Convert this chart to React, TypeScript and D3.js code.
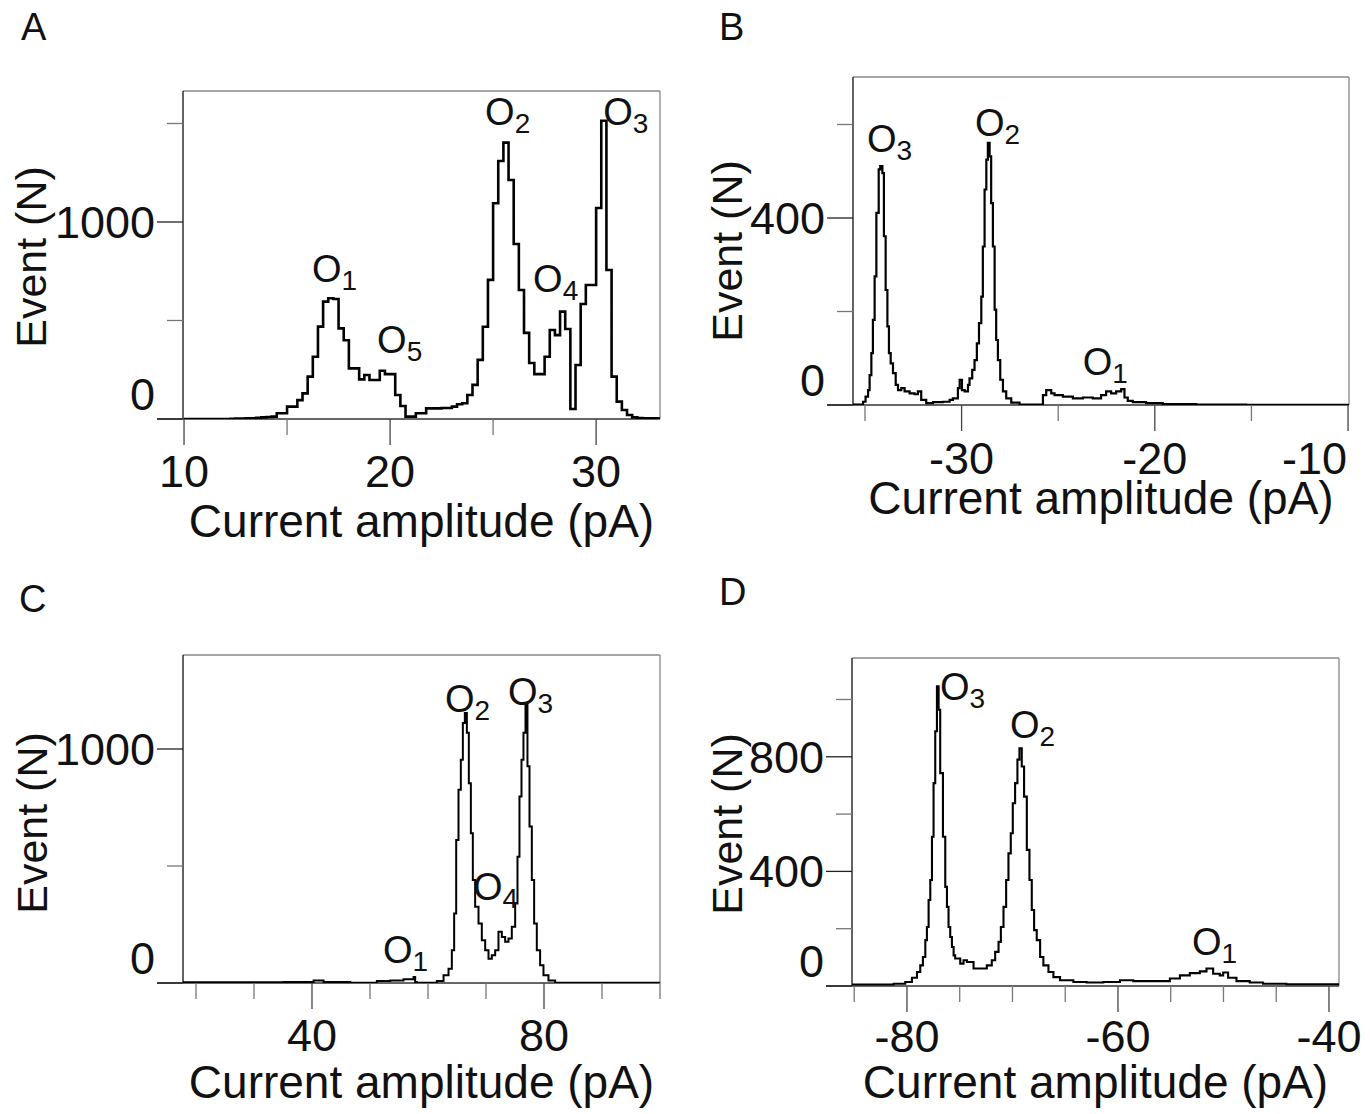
import React from "react";
import * as d3 from "d3";

const FONT = "'Liberation Sans', Arial, Helvetica, sans-serif";

// ---------------- Panel A (uniform bins of 0.25 pA starting at 10 pA)
const aBinStart = 10;
const aBinWidth = 0.25;
const aCounts = [
  0, 0, 0, 0, 0, 0, 0, 0, 0, 1, 2, 2, 3, 4, 6, 8, 10, 12, 29, 29,
  63, 63, 96, 130, 215, 316, 469, 596, 613, 609, 460, 400, 257, 257, 201, 223, 198, 198, 245, 228,
  228, 122, 66, 12, 12, 29, 29, 54, 54, 54, 56, 56, 63, 75, 80, 122, 173, 300, 468, 706,
  1095, 1310, 1403, 1213, 888, 655, 437, 284, 228, 228, 316, 452, 426, 545, 457, 51, 274, 584, 680, 680,
  1071, 1514, 756, 215, 88, 46, 20, 8, 5, 4, 3, 3, 2,
];
const aXDomain = [9.95, 33.1];
const aYDomain = [0, 1665];
const aXMajor = [10, 20, 30];
const aXMinor = [15, 25];
const aYMajor = [0, 1000];
const aYMinor = [500, 1500];
const aPeaks = [
  { sub: "1", x: 16.21, y: 695 },
  { sub: "2", x: 24.61, y: 1492 },
  { sub: "3", x: 30.34, y: 1492 },
  { sub: "4", x: 26.94, y: 645 },
  { sub: "5", x: 19.37, y: 335 },
];

// ---------------- Panel B
const bEdges = [
  -35.62, -35.1, -34.97, -34.84, -34.76, -34.67, -34.59, -34.5, -34.41, -34.29, -34.21, -34.1, -34.02,
  -33.93, -33.84, -33.76, -33.67, -33.55, -33.41, -33.29, -33.12, -32.95, -32.69, -32.43, -32.26,
  -32.09, -31.83, -31.48, -30.97, -30.62, -30.45, -30.19, -30.1, -29.98, -29.84, -29.67, -29.59,
  -29.45, -29.33, -29.21, -29.1, -28.98, -28.9, -28.81, -28.72, -28.64, -28.55, -28.47, -28.38,
  -28.29, -28.21, -28.12, -28.0, -27.86, -27.69, -27.43, -27.0, -25.79, -25.62, -25.36, -25.19,
  -24.76, -24.24, -23.72, -23.21, -22.78, -22.52, -22.26, -22.0, -21.74, -21.57, -21.4, -21.14,
  -20.45, -19.59, -17.86, -15.28, -9.95,
];
const bCounts = [
  1, 7, 18, 32, 64, 111, 182, 275, 411, 504, 511, 496, 361, 246, 168, 111, 89, 68, 43, 32,
  36, 29, 25, 23, 29, 11, 4, 6, 7, 11, 14, 36, 54, 32, 29, 43, 57, 75, 96, 132,
  175, 232, 339, 461, 525, 561, 532, 432, 339, 204, 139, 96, 54, 29, 14, 5, 1, 21, 32, 25,
  21, 18, 14, 16, 14, 21, 29, 25, 29, 34, 16, 9, 6, 4, 2, 1, 0.5,
];
const bXDomain = [-35.62, -9.95];
const bYDomain = [0, 701.6];
const bXMajor = [-30, -20, -10];
const bXMinor = [-35, -25, -15];
const bYMajor = [0, 400];
const bYMinor = [200, 600];
const bPeaks = [
  { sub: "3", x: -34.9, y: 541 },
  { sub: "2", x: -29.31, y: 575 },
  { sub: "1", x: -23.73, y: 64 },
];

// ---------------- Panel C
const cEdges = [
  17.76, 35.1, 39.7, 40.28, 42.0, 46.6, 51.19, 53.49, 55.78, 57.51, 57.79, 58.08, 61.53, 62.68,
  63.54, 64.11, 64.51, 64.86, 65.26, 65.66, 66.01, 66.35, 66.7, 67.04, 67.39, 67.73, 68.13, 68.71,
  69.28, 69.86, 70.43, 71.0, 71.58, 72.15, 72.73, 73.3, 73.88, 74.45, 75.03, 75.43, 75.77, 76.12,
  76.46, 76.81, 77.15, 77.5, 77.9, 78.3, 78.76, 79.33, 79.91, 80.77, 81.92, 100,
];
const cCounts = [
  3, 4, 4, 11, 4, 1, 9, 11, 16, 26, 4, 1, 9, 33, 61, 140, 297, 611, 826, 954,
  1111, 1154, 1069, 854, 640, 440, 326, 254, 183, 140, 104, 119, 140, 219, 197, 176, 190, 240, 340, 540,
  797, 954, 1069, 1190, 926, 669, 440, 254, 140, 76, 33, 11, 1,
];
const cXDomain = [17.76, 100];
const cYDomain = [0, 1401.7];
const cXMajor = [40, 80];
const cXMinor = [20, 30, 50, 60, 70, 90, 100];
const cYMajor = [0, 1000];
const cYMinor = [500];
const cPeaks = [
  { sub: "2", x: 62.93, y: 1158 },
  { sub: "3", x: 73.79, y: 1188 },
  { sub: "4", x: 67.76, y: 355 },
  { sub: "1", x: 52.24, y: 85 },
];

// ---------------- Panel D
const dEdges = [
  -85.21, -81.26, -80.16, -79.53, -79.05, -78.74, -78.49, -78.26, -78.11, -77.95, -77.79, -77.63,
  -77.48, -77.32, -77.16, -77.0, -76.85, -76.59, -76.37, -76.21, -76.06, -75.9, -75.74, -75.58,
  -75.43, -74.95, -74.64, -74.32, -73.69, -73.06, -72.43, -71.96, -71.64, -71.32, -71.1, -70.85,
  -70.6, -70.38, -70.16, -69.97, -69.75, -69.53, -69.34, -69.12, -68.9, -68.64, -68.39, -68.17,
  -67.95, -67.7, -67.38, -67.07, -66.59, -66.12, -65.49, -64.23, -62.97, -61.39, -59.81, -58.55,
  -57.29, -55.08, -54.13, -53.19, -52.24, -51.61, -50.98, -50.35, -50.03, -49.56, -48.77, -47.51,
  -46.25, -44.04, -39.05,
];
const dCounts = [
  5, 8, 14, 29, 49, 72, 101, 160, 206, 300, 370, 521, 708, 889, 1046, 964, 743, 521, 346, 276,
  206, 171, 136, 107, 96, 78, 90, 84, 61, 61, 72, 90, 119, 154, 206, 276, 370, 463, 533, 638,
  708, 790, 830, 766, 661, 475, 370, 265, 195, 160, 101, 72, 49, 31, 20, 14, 12, 14, 20, 17,
  17, 26, 37, 45, 51, 61, 43, 37, 47, 29, 17, 12, 8, 6,
];
const dXDomain = [-85.21, -39.05];
const dYDomain = [0, 1144.8];
const dXMajor = [-80, -60, -40];
const dXMinor = [-85, -75, -70, -65, -55, -50, -45];
const dYMajor = [0, 400, 800];
const dYMinor = [200, 600, 1000];
const dPeaks = [
  { sub: "3", x: -76.87, y: 998 },
  { sub: "2", x: -70.24, y: 866 },
  { sub: "1", x: -52.99, y: 108 },
];

const xTitle = "Current amplitude (pA)";
const yTitle = "Event (N)";

type Peak = { sub: string; x: number; y: number };
type Spec = {
  id: string;
  letter: string;
  letterPos: [number, number];
  box: { left: number; right: number; top: number; bottom: number };
  xDomain: number[];
  yDomain: number[];
  edges: number[];
  counts: number[];
  xMajor: number[];
  xMinor: number[];
  yMajor: number[];
  yMinor: number[];
  peaks: Peak[];
  strokeW: number;
  yTitlePos: [number, number];
  xTickBaseline: number;
  xTitleBaseline: number;
};

function uniformEdges(start: number, width: number, n: number) {
  return d3.range(n + 1).map((i) => start + i * width);
}

const specs: Spec[] = [
  {
    id: "A",
    letter: "A",
    letterPos: [21, 40],
    box: { left: 183, right: 660, top: 91, bottom: 419 },
    xDomain: aXDomain,
    yDomain: aYDomain,
    edges: uniformEdges(aBinStart, aBinWidth, aCounts.length),
    counts: aCounts,
    xMajor: aXMajor,
    xMinor: aXMinor,
    yMajor: aYMajor,
    yMinor: aYMinor,
    peaks: aPeaks,
    strokeW: 2.6,
    yTitlePos: [46, 257],
    xTickBaseline: 487,
    xTitleBaseline: 537,
  },
  {
    id: "B",
    letter: "B",
    letterPos: [719, 40],
    box: { left: 853, right: 1349, top: 77, bottom: 405 },
    xDomain: bXDomain,
    yDomain: bYDomain,
    edges: bEdges,
    counts: bCounts,
    xMajor: bXMajor,
    xMinor: bXMinor,
    yMajor: bYMajor,
    yMinor: bYMinor,
    peaks: bPeaks,
    strokeW: 2.2,
    yTitlePos: [742, 251],
    xTickBaseline: 474,
    xTitleBaseline: 514,
  },
  {
    id: "C",
    letter: "C",
    letterPos: [19, 612],
    box: { left: 183, right: 660, top: 655, bottom: 983 },
    xDomain: cXDomain,
    yDomain: cYDomain,
    edges: cEdges,
    counts: cCounts,
    xMajor: cXMajor,
    xMinor: cXMinor,
    yMajor: cYMajor,
    yMinor: cYMinor,
    peaks: cPeaks,
    strokeW: 2.0,
    yTitlePos: [47, 823],
    xTickBaseline: 1051,
    xTitleBaseline: 1098,
  },
  {
    id: "D",
    letter: "D",
    letterPos: [719, 605],
    box: { left: 852, right: 1339, top: 658, bottom: 986 },
    xDomain: dXDomain,
    yDomain: dYDomain,
    edges: dEdges,
    counts: dCounts,
    xMajor: dXMajor,
    xMinor: dXMinor,
    yMajor: dYMajor,
    yMinor: dYMinor,
    peaks: dPeaks,
    strokeW: 2.1,
    yTitlePos: [742, 824],
    xTickBaseline: 1052,
    xTitleBaseline: 1098,
  },
];

const MAJOR_LEN = 26;
const MINOR_LEN = 16;
const TICK_FONT = 45;
const YTITLE_FONT = 43;
const TITLE_FONT = 46;
const PAGE_W = 1370;

function Panel({ s }: { s: Spec }) {
  const { left, right, top, bottom } = s.box;
  const x = d3.scaleLinear().domain(s.xDomain).range([left, right]);
  const y = d3.scaleLinear().domain(s.yDomain).range([bottom, top]);

  const pts: [number, number][] = s.counts.map((c, i) => [s.edges[i], c]);
  pts.push([s.edges[s.edges.length - 1], s.counts[s.counts.length - 1]]);
  const line = d3
    .line<[number, number]>()
    .x((d) => x(d[0]))
    .y((d) => y(d[1]))
    .curve(d3.curveStepAfter);

  const clipId = `clip-${s.id}`;
  const cx = (left + right) / 2;

  return (
    <g>
      <defs>
        <clipPath id={clipId}>
          <rect x={left} y={top - 2} width={right - left} height={bottom - top + 2} />
        </clipPath>
      </defs>
      {/* panel letter */}
      <text x={s.letterPos[0]} y={s.letterPos[1]} fontSize={38} fontFamily={FONT} fill="#111">
        {s.letter}
      </text>

      {/* frame */}
      <line x1={left} x2={right} y1={top} y2={top} stroke="#888" strokeWidth={1.3} />
      <line x1={right} x2={right} y1={top} y2={bottom} stroke="#888" strokeWidth={1.3} />
      <line x1={left} x2={left} y1={top} y2={bottom} stroke="#222" strokeWidth={1.4} />
      <line x1={left - MAJOR_LEN} x2={right} y1={bottom} y2={bottom} stroke="#333" strokeWidth={1.4} />

      {/* y ticks */}
      {s.yMajor.map((v) => (
        <line key={`ym${v}`} x1={left - MAJOR_LEN} x2={left} y1={y(v)} y2={y(v)} stroke="#222" strokeWidth={1.3} />
      ))}
      {s.yMinor.map((v) => (
        <line key={`yn${v}`} x1={left - MINOR_LEN} x2={left} y1={y(v)} y2={y(v)} stroke="#777" strokeWidth={1.3} />
      ))}
      {s.yMajor.map((v) => (
        <text
          key={`yl${v}`}
          x={left - MAJOR_LEN - 2}
          y={v === 0 ? y(v) - 9 : y(v) + 16}
          textAnchor="end"
          fontSize={TICK_FONT}
          fontFamily={FONT}
          fill="#111"
        >
          {String(v)}
        </text>
      ))}

      {/* x ticks */}
      {s.xMajor.map((v) => (
        <line key={`xm${v}`} x1={x(v)} x2={x(v)} y1={bottom} y2={bottom + MAJOR_LEN} stroke="#444" strokeWidth={1.3} />
      ))}
      {s.xMinor.map((v) => (
        <line key={`xn${v}`} x1={x(v)} x2={x(v)} y1={bottom} y2={bottom + MINOR_LEN} stroke="#777" strokeWidth={1.3} />
      ))}
      {s.xMajor.map((v) => {
        const label = String(v);
        const halfW = (label.length * 0.54 * TICK_FONT) / 2;
        const overflow = x(v) + halfW > PAGE_W - 4;
        return (
          <text
            key={`xl${v}`}
            x={overflow ? x(v) - 1 : x(v)}
            y={s.xTickBaseline}
            textAnchor={overflow ? "end" : "middle"}
            fontSize={TICK_FONT}
            fontFamily={FONT}
            fill="#111"
          >
            {label}
          </text>
        );
      })}

      {/* titles */}
      <text x={cx} y={s.xTitleBaseline} textAnchor="middle" fontSize={TITLE_FONT} fontFamily={FONT} fill="#111">
        {xTitle}
      </text>
      <text
        transform={`translate(${s.yTitlePos[0]},${s.yTitlePos[1]}) rotate(-90)`}
        textAnchor="middle"
        fontSize={YTITLE_FONT}
        fontFamily={FONT}
        fill="#111"
      >
        {yTitle}
      </text>

      {/* histogram */}
      <path
        d={line(pts) || ""}
        fill="none"
        stroke="#000"
        strokeWidth={s.strokeW}
        strokeLinejoin="miter"
        clipPath={`url(#${clipId})`}
      />

      {/* peak labels */}
      {s.peaks.map((p, i) => (
        <text key={`p${i}`} x={x(p.x)} y={y(p.y)} fontSize={38} fontFamily={FONT} fill="#111">
          O
          <tspan fontSize={28} dy={8}>
            {p.sub}
          </tspan>
        </text>
      ))}
    </g>
  );
}

export default function App() {
  return (
    <svg
      width={1370}
      height={1114}
      viewBox="0 0 1370 1114"
      style={{ position: "absolute", left: 0, top: 0, background: "#fff" }}
    >
      <rect x={0} y={0} width={1370} height={1114} fill="#fff" />
      {specs.map((s) => (
        <Panel key={s.id} s={s} />
      ))}
    </svg>
  );
}
